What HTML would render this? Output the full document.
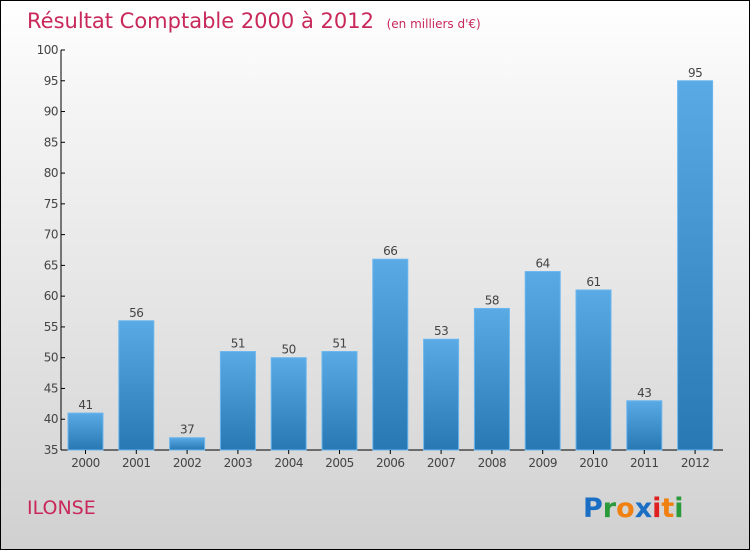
<!DOCTYPE html>
<html><head><meta charset="utf-8"><style>
body{margin:0}
#c{width:748px;height:548px;border:1px solid #000;background:linear-gradient(#fff,#f4f4f4 20%,#d8d8d8 85%,#d0d0d0);position:relative;font-family:"DejaVu Sans","Liberation Sans",sans-serif;overflow:hidden}
</style></head><body>
<div id="c">
<svg width="748" height="548">
<defs><linearGradient id="g" x1="0" y1="0" x2="0" y2="1"><stop offset="0" stop-color="#5aaae6"/><stop offset="1" stop-color="#2878b4"/></linearGradient></defs>
<text x="26" y="27" font-size="21" fill="#c8285a">Résultat Comptable 2000 à 2012 <tspan font-size="12" dx="6">(en milliers d'€)</tspan></text>
<text x="26" y="513" font-size="19" fill="#c8285a">ILONSE</text>
<text x="582" y="516" font-size="27" font-weight="bold"><tspan fill="#1a6fc4">P</tspan><tspan fill="#2a9a3a">r</tspan><tspan fill="#f08010">o</tspan><tspan fill="#1a6fc4">x</tspan><tspan fill="#e02020">i</tspan><tspan fill="#f08010">t</tspan><tspan fill="#2a9a3a">i</tspan></text>
<g id="plot"></g>
</svg></div>
<script>
const categories=["2000","2001","2002","2003","2004","2005","2006","2007","2008","2009","2010","2011","2012"];
const values=[41,56,37,51,50,51,66,53,58,64,61,43,95];
const ticks=[35,40,45,50,55,60,65,70,75,80,85,90,95,100];
const NS="http://www.w3.org/2000/svg";
const g=document.getElementById('plot');
const y=v=>449-(v-35)*(400/65);
const x=i=>84.5+i*50.8;
function mk(t,a){const e=document.createElementNS(NS,t);for(const k in a)e.setAttribute(k,a[k]);g.appendChild(e);return e;}
let ax=mk('line',{x1:60,y1:49,x2:60,y2:449,stroke:'#000'});


let bx=mk('line',{x1:60,y1:449,x2:722,y2:449,stroke:'#000'});


ticks.forEach(t=>{
 mk('line',{x1:60,y1:y(t),x2:64,y2:y(t),stroke:'#000'});
 let l=mk('text',{x:57,y:y(t)+4,'text-anchor':'end','font-size':12,fill:'#444','letter-spacing':'-0.5'});
 l.textContent=t;
 
 
});
categories.forEach((c,i)=>{
 let r=mk('rect',{x:x(i)-17.5,y:y(values[i]),width:35,height:449-y(values[i]),fill:'url(#g)',stroke:'#6bb6ee','stroke-width':1});
 
 
 let v=mk('text',{x:x(i),y:y(values[i])-4,'text-anchor':'middle','font-size':12,fill:'#444','letter-spacing':'-0.5'});
 v.textContent=values[i];
 
 
 mk('line',{x1:x(i),y1:449,x2:x(i),y2:453,stroke:'#000'});
 let l=mk('text',{x:x(i),y:466,'text-anchor':'middle','font-size':12,fill:'#444','letter-spacing':'-0.5'});
 l.textContent=c;
 
 
});
</script>
</body></html>
